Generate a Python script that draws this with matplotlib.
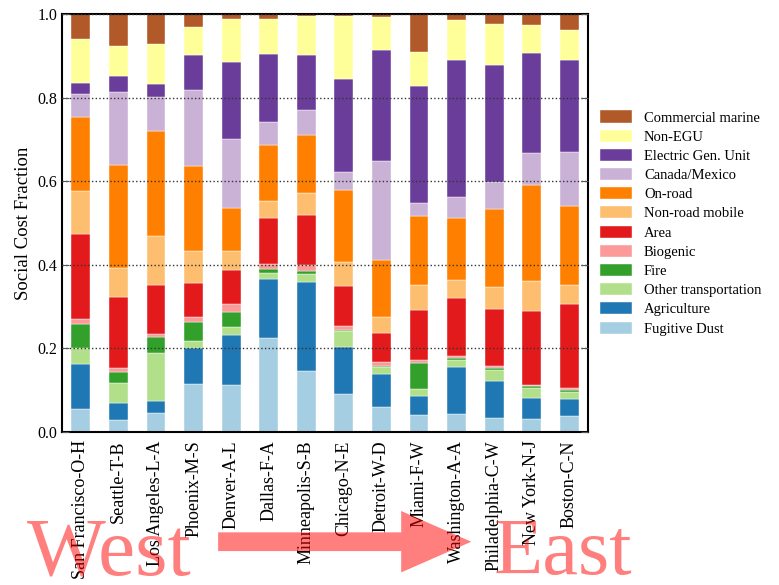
import numpy as np
import matplotlib
matplotlib.use('Agg')
from matplotlib import pyplot as plt
from matplotlib.patches import FancyArrow

cities = ['San Francisco-O-H', 'Seattle-T-B', 'Los Angeles-L-A', 'Phoenix-M-S',
          'Denver-A-L', 'Dallas-F-A', 'Minneapolis-S-B', 'Chicago-N-E',
          'Detroit-W-D', 'Miami-F-W', 'Washington-A-A', 'Philadelphia-C-W',
          'New York-N-J', 'Boston-C-N']

# bottom to top
sources = ['Fugitive Dust', 'Agriculture', 'Other transportation', 'Fire',
           'Biogenic', 'Area', 'Non-road mobile', 'On-road', 'Canada/Mexico',
           'Electric Gen. Unit', 'Non-EGU', 'Commercial marine']

fugitive_dust = [0.054, 0.029, 0.045, 0.116, 0.112, 0.224, 0.146, 0.091, 0.061, 0.041, 0.042, 0.033, 0.031, 0.038]
agriculture   = [0.108, 0.040, 0.030, 0.085, 0.121, 0.143, 0.212, 0.113, 0.079, 0.045, 0.114, 0.088, 0.050, 0.041]
other_transp  = [0.039, 0.048, 0.114, 0.017, 0.018, 0.014, 0.021, 0.037, 0.016, 0.018, 0.017, 0.027, 0.024, 0.017]
fire          = [0.058, 0.027, 0.038, 0.045, 0.036, 0.009, 0.006, 0.002, 0.003, 0.061, 0.004, 0.004, 0.004, 0.005]
biogenic      = [0.011, 0.008, 0.008, 0.012, 0.019, 0.013, 0.014, 0.010, 0.009, 0.008, 0.004, 0.005, 0.004, 0.005]
area          = [0.204, 0.171, 0.117, 0.082, 0.081, 0.108, 0.121, 0.096, 0.069, 0.119, 0.140, 0.138, 0.177, 0.200]
non_road      = [0.102, 0.069, 0.117, 0.076, 0.046, 0.041, 0.051, 0.058, 0.037, 0.060, 0.042, 0.051, 0.072, 0.046]
on_road       = [0.178, 0.246, 0.252, 0.203, 0.103, 0.135, 0.139, 0.172, 0.138, 0.164, 0.149, 0.187, 0.229, 0.189]
canada_mexico = [0.054, 0.175, 0.080, 0.182, 0.165, 0.054, 0.060, 0.043, 0.236, 0.031, 0.051, 0.066, 0.076, 0.128]
egu           = [0.026, 0.039, 0.032, 0.083, 0.185, 0.163, 0.133, 0.223, 0.267, 0.281, 0.327, 0.280, 0.239, 0.222]
non_egu       = [0.107, 0.071, 0.095, 0.069, 0.101, 0.085, 0.093, 0.151, 0.077, 0.080, 0.096, 0.097, 0.068, 0.070]
comm_marine   = [0.059, 0.077, 0.072, 0.030, 0.013, 0.011, 0.004, 0.004, 0.008, 0.092, 0.014, 0.024, 0.026, 0.039]

series = [fugitive_dust, agriculture, other_transp, fire, biogenic, area,
          non_road, on_road, canada_mexico, egu, non_egu, comm_marine]

colors = plt.get_cmap('Paired').colors

plt.rcParams['font.family'] = ['Liberation Serif', 'DejaVu Serif']

fig = plt.figure(figsize=(7.79, 5.85), dpi=100)
ax = fig.add_axes([0.0796, 0.2615, 0.6754, 0.7145])

x = np.arange(len(cities))
bottom = np.zeros(len(cities))
for name, vals, c in zip(sources, series, colors):
    vals = np.array(vals)
    ax.bar(x, vals, 0.5, bottom=bottom, color=c, label=name,
           edgecolor='white', linewidth=0.3)
    bottom += vals

ax.set_xlim(-0.5, len(cities) - 0.5)
ax.set_ylim(0, 1)
ax.set_xticks(x)
ax.set_xticklabels(cities, rotation=90, fontsize=13)
ax.set_yticks([0, 0.2, 0.4, 0.6, 0.8, 1.0])
ax.set_yticklabels(['0.0', '0.2', '0.4', '0.6', '0.8', '1.0'], fontsize=11.5)
ax.tick_params(axis='x', length=0, pad=6)
ax.tick_params(axis='y', direction='in', right=True, length=5, color='#555555')
ax.set_ylabel('Social Cost Fraction', fontsize=13.5)
ax.yaxis.grid(True, linestyle=':', color='#333333', linewidth=1)
ax.set_axisbelow(False)
for s in ax.spines.values():
    s.set_linewidth(1.5)

h, l = ax.get_legend_handles_labels()
ax.legend(h[::-1], l[::-1], loc='center left', bbox_to_anchor=(0.998, 0.50),
          frameon=False, fontsize=10.5, labelspacing=0.35, handlelength=2.2,
          handleheight=0.9)

# west -> east annotation
fig.text(0.035, 0.018, 'West', fontsize=60, color='red', alpha=0.5)
fig.text(0.634, 0.018, 'East', fontsize=58, color='red', alpha=0.5)
fig.patches.append(FancyArrow(0.28, 0.074, 0.325, 0, width=0.032,
                              head_width=0.105, head_length=0.09,
                              length_includes_head=True, color='red',
                              alpha=0.5, linewidth=0, transform=fig.transFigure))

fig.savefig('out.png', dpi=100)
